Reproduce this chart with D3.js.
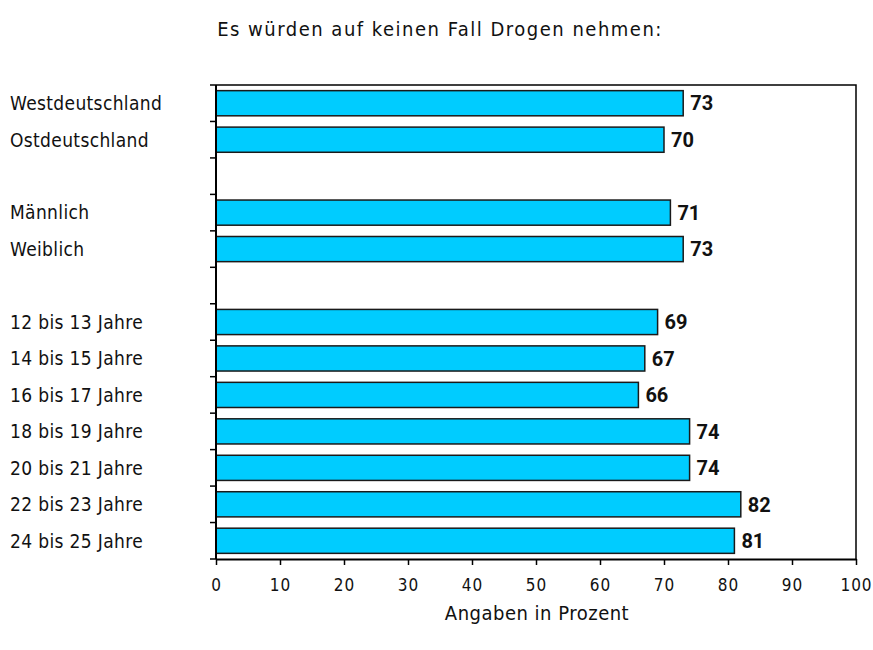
<!DOCTYPE html>
<html>
<head>
<meta charset="utf-8">
<script src="https://cdn.jsdelivr.net/npm/d3@7"></script>
<style>
    body { margin: 0; background: #fff; }
    .cat { font-family: "DejaVu Sans Condensed", sans-serif; font-size: 19px; letter-spacing: 0.35px; fill: #111; }
    .title { font-family: "DejaVu Sans Condensed", sans-serif; font-size: 20px; letter-spacing: 1.5px; fill: #111; }
    .tick text { font-family: "DejaVu Sans Condensed", sans-serif; font-size: 17px; letter-spacing: 1px; fill: #111; }
    .val { font-family: Roboto, sans-serif; font-size: 20px; font-weight: bold; fill: #111; }
    .xtitle { font-family: "DejaVu Sans Condensed", sans-serif; font-size: 20px; letter-spacing: 0.5px; fill: #111; }
</style>
</head>
<body>
<svg id="chart" width="873" height="650"></svg>
<script>

// empty label + null value = gap row
var categories = ["Westdeutschland", "Ostdeutschland", "",
                  "Männlich", "Weiblich", "",
                  "12 bis 13 Jahre", "14 bis 15 Jahre", "16 bis 17 Jahre",
                  "18 bis 19 Jahre", "20 bis 21 Jahre", "22 bis 23 Jahre", "24 bis 25 Jahre"];
var values = [73, 70, null, 71, 73, null, 69, 67, 66, 74, 74, 82, 81];
var xTicks = [0, 10, 20, 30, 40, 50, 60, 70, 80, 90, 100];

var titleText = "Es würden auf keinen Fall Drogen nehmen:";
var xTitleText = "Angaben in Prozent";

var plotLeft = 216, plotRight = 856, plotTop = 85, plotBottom = 559;

var svg = d3.select("#chart");

var x = d3.scaleLinear().domain([0, 100]).range([plotLeft, plotRight]);
var y = d3.scaleBand()
        .domain(d3.range(categories.length))
        .range([plotTop, plotBottom])
        .paddingInner(0.31)
        .paddingOuter(0.155);

// frame (top + right)
svg.append("path")
        .attr("d", "M" + plotLeft + "," + plotTop + "H" + plotRight + "V" + plotBottom)
        .attr("fill", "none")
        .attr("stroke", "#000")
        .attr("stroke-width", 1.5);

// bars
var rows = categories.map(function (c, i) { return {label: c, value: values[i], i: i}; });
var bars = rows.filter(function (d) { return d.value !== null; });

svg.selectAll("rect.bar")
        .data(bars)
        .enter().append("rect")
        .attr("class", "bar")
        .attr("x", x(0))
        .attr("y", function (d) { return y(d.i); })
        .attr("width", function (d) { return x(d.value) - x(0); })
        .attr("height", y.bandwidth())
        .attr("fill", "#00ccff")
        .attr("stroke", "#1a1a1a")
        .attr("stroke-width", 1.5);

svg.selectAll("text.val")
        .data(bars)
        .enter().append("text")
        .attr("class", "val")
        .attr("x", function (d) { return x(d.value) + 7; })
        .attr("y", function (d) { return y(d.i) + y.bandwidth() / 2; })
        .attr("dy", "0.36em")
        .text(function (d) { return d.value; });

// category labels
svg.selectAll("text.cat")
        .data(rows.filter(function (d) { return d.label !== ""; }))
        .enter().append("text")
        .attr("class", "cat")
        .attr("x", 10)
        .attr("y", function (d) { return y(d.i) + y.bandwidth() / 2; })
        .attr("dy", "0.36em")
        .text(function (d) { return d.label; });

// left axis: line + ticks at row boundaries
var step = y.step();
svg.append("line")
        .attr("x1", plotLeft).attr("x2", plotLeft)
        .attr("y1", plotTop).attr("y2", plotBottom)
        .attr("stroke", "#000").attr("stroke-width", 2);
svg.selectAll("line.ytick")
        .data(d3.range(categories.length + 1))
        .enter().append("line")
        .attr("class", "ytick")
        .attr("x1", plotLeft - 6).attr("x2", plotLeft)
        .attr("y1", function (i) { return plotTop + i * step; })
        .attr("y2", function (i) { return plotTop + i * step; })
        .attr("stroke", "#000").attr("stroke-width", 1.5);

// bottom axis
var xAxis = svg.append("g")
        .attr("transform", "translate(0," + plotBottom + ")")
        .call(d3.axisBottom(x).tickValues(xTicks).tickSize(6).tickPadding(14).tickSizeOuter(0));
xAxis.select(".domain").attr("stroke-width", 2);
xAxis.selectAll(".tick line").attr("stroke-width", 1.5);

svg.append("text")
        .attr("class", "title")
        .attr("x", 440)
        .attr("y", 36)
        .attr("text-anchor", "middle")
        .text(titleText);

svg.append("text")
        .attr("class", "xtitle")
        .attr("x", 537)
        .attr("y", 620)
        .attr("text-anchor", "middle")
        .text(xTitleText);

</script>
</body>
</html>
